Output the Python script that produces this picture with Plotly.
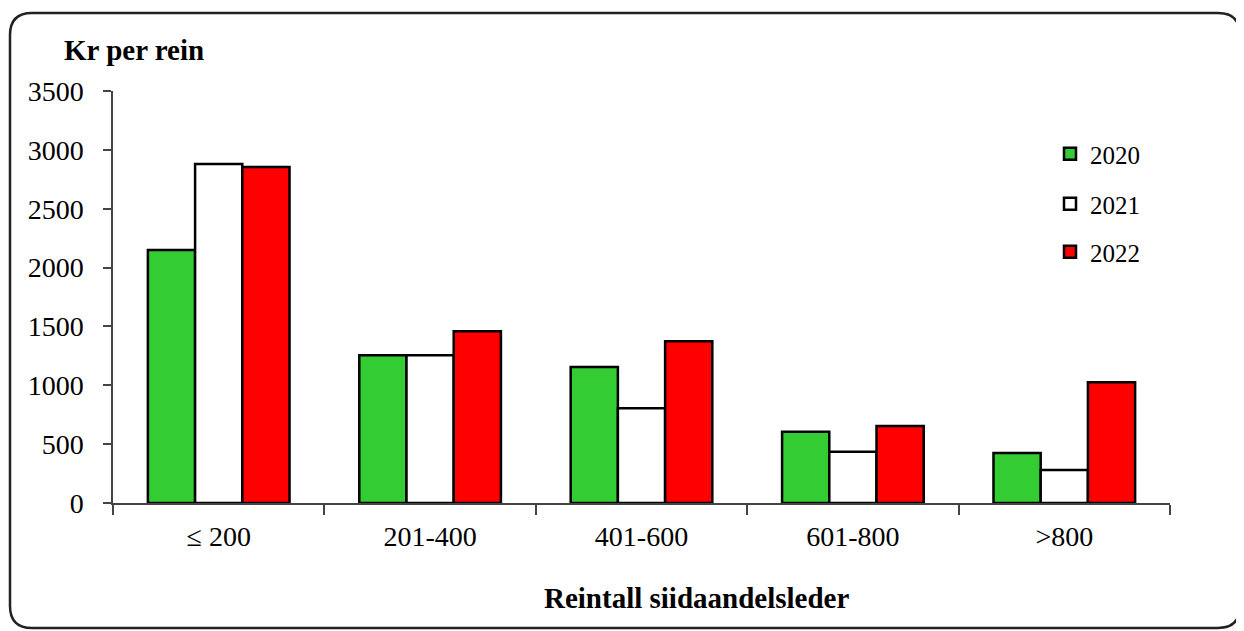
import plotly.graph_objects as go

categories = ["≤ 200", "201-400", "401-600", "601-800", ">800"]
years = ["2020", "2021", "2022"]
values_2020 = [2150, 1255, 1155, 605, 425]
values_2021 = [2880, 1255, 805, 435, 280]
values_2022 = [2855, 1460, 1375, 655, 1025]
colors = ["#33CC33", "#FFFFFF", "#FF0000"]

FONT = "Liberation Serif, Times New Roman, serif"

# page has an 8px body margin; figure sized to fill the rest of the window
OFF = 8
W, H = 1244 - OFF, 631 - OFF
L, T = 113 - OFF, 91 - OFF
R = W - (1170 - OFF)
B = H - (503 - OFF)
pw, ph = W - L - R, H - T - B

def px_x(p):
    return (p - OFF - L) / pw

def px_y(p):
    return (H - B - (p - OFF)) / ph

fig = go.Figure()
series = [values_2020, values_2021, values_2022]
legend_names = ["legend", "legend2", "legend3"]
for name, vals, col, lg in zip(years, series, colors, legend_names):
    fig.add_trace(go.Bar(
        x=categories, y=vals, name=name, legend=lg,
        marker=dict(color=col, line=dict(color="black", width=2.5)),
    ))

legend_y_px = [154, 204, 252]
leg_common = dict(font=dict(family=FONT, size=25, color="black"),
                  bgcolor="rgba(0,0,0,0)", xanchor="left", yanchor="middle",
                  x=px_x(1050), itemwidth=30)
layout_legends = {}
for lg, ypx in zip(legend_names, legend_y_px):
    layout_legends[lg] = dict(leg_common, y=px_y(ypx))

fig.update_layout(
    width=W, height=H,
    margin=dict(l=L, r=R, t=T, b=B),
    paper_bgcolor="white", plot_bgcolor="white",
    barmode="group", bargap=0.33, bargroupgap=0,
    font=dict(family=FONT, color="black"),
    showlegend=True,
    **layout_legends,
    xaxis=dict(
        showline=True, linecolor="#444444", linewidth=1.5,
        ticks="outside", tickson="boundaries", ticklen=10, tickcolor="#444444",
        tickwidth=1.5, tickfont=dict(family=FONT, size=28, color="black"),
        ticklabelstandoff=8, showgrid=False,
    ),
    yaxis=dict(
        range=[0, 3500], dtick=500, showline=True, linecolor="#444444",
        linewidth=1.5, ticks="outside", ticklen=8, tickcolor="#444444",
        tickwidth=1.5, tickfont=dict(family=FONT, size=28, color="black"),
        ticklabelstandoff=14, showgrid=False, zeroline=False,
    ),
    annotations=[
        dict(text="<b>Kr per rein</b>", xref="paper", yref="paper",
             x=px_x(134), y=px_y(50), xanchor="center", yanchor="middle",
             showarrow=False, font=dict(family=FONT, size=29, color="black")),
        dict(text="<b>Reintall siidaandelsleder</b>", xref="paper", yref="paper",
             x=px_x(696), y=px_y(598), xanchor="center", yanchor="middle",
             showarrow=False, font=dict(family=FONT, size=29, color="black")),
    ],
)

# rounded frame around the chart
x0, x1 = px_x(10), px_x(1240)
y0, y1 = px_y(628), px_y(13)
rx, ry = 22 / pw, 22 / ph
path = (f"M {x0+rx},{y1} L {x1-rx},{y1} Q {x1},{y1} {x1},{y1-ry} "
        f"L {x1},{y0+ry} Q {x1},{y0} {x1-rx},{y0} L {x0+rx},{y0} "
        f"Q {x0},{y0} {x0},{y0+ry} L {x0},{y1-ry} Q {x0},{y1} {x0+rx},{y1} Z")
fig.add_shape(type="path", path=path, xref="paper", yref="paper",
              line=dict(color="#222222", width=2.5), layer="below")

fig.write_html("out.html")
